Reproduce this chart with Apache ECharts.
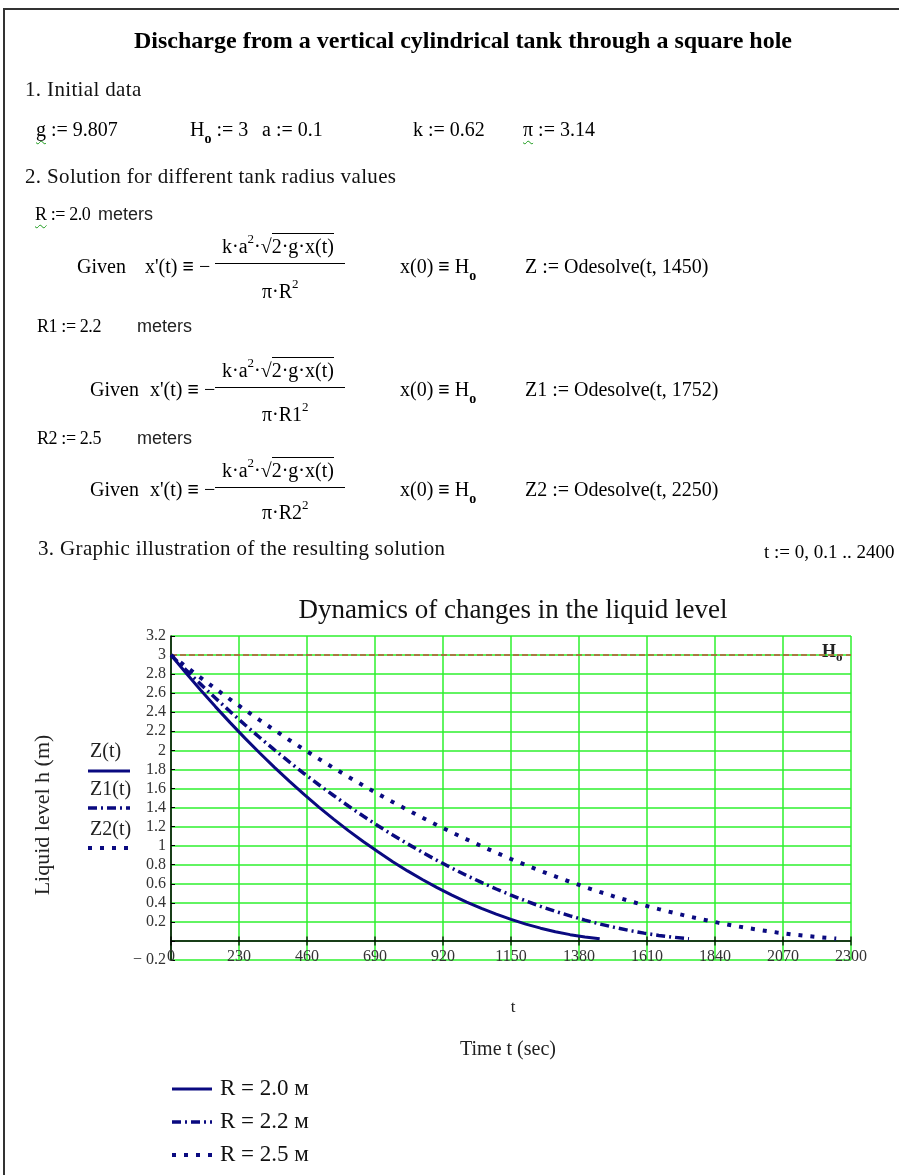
<!DOCTYPE html>
<html>
<head>
<meta charset="utf-8">
<script src="https://cdn.jsdelivr.net/npm/echarts@6/dist/echarts.min.js"></script>
<style>
html,body{margin:0;padding:0;background:#fff;}
body{width:899px;height:1175px;overflow:hidden;position:relative;}
#frame{position:absolute;left:3px;top:8px;width:2000px;height:2000px;border-left:2px solid #333;border-top:2px solid #333;}
#chart{position:absolute;left:0;top:0;width:899px;height:1175px;}
.m{position:absolute;font-family:'Liberation Serif',serif;font-size:20px;line-height:20px;white-space:nowrap;color:#000;z-index:2;}
.r{font-size:18px;line-height:20px;letter-spacing:-0.4px;}
.s{font-family:'Liberation Sans',sans-serif;font-size:18px;color:#222;letter-spacing:0;}
.h{font-size:21px;line-height:22px;letter-spacing:0.35px;color:#111;}
.w{text-decoration:underline wavy #1a9a1a;text-underline-offset:4px;text-decoration-thickness:1px;text-decoration-skip-ink:none;}
sup{font-size:13px;vertical-align:10px;line-height:0;}
sub{font-size:14px;vertical-align:-7px;line-height:0;font-weight:bold;}
.ov{border-top:1.3px solid #000;padding-top:1px;}
.bar{position:absolute;height:1.4px;background:#000;z-index:2;}
</style>
</head>
<body>
<div id="frame"></div>
<div id="chart"></div>

<div class="m" style="left:463px;top:26px;transform:translateX(-50%);font-size:24px;line-height:28px;font-weight:bold;">Discharge from a vertical cylindrical tank through a square hole</div>

<div class="m h" style="left:25px;top:78px;">1. Initial data</div>
<div class="m" style="left:36px;top:119px;"><span class="w">g</span> :=  9.807</div>
<div class="m" style="left:190px;top:119px;">H<sub>o</sub> := 3</div>
<div class="m" style="left:262px;top:119px;">a := 0.1</div>
<div class="m" style="left:413px;top:119px;">k := 0.62</div>
<div class="m" style="left:523px;top:119px;"><span class="w">π</span> := 3.14</div>

<div class="m h" style="left:25px;top:165px;">2. Solution for different tank radius values</div>

<div class="m r" style="left:35px;top:204px;"><span class="w">R</span> := 2.0</div>
<div class="m s" style="left:98px;top:204px;">meters</div>
<div class="m" style="left:77px;top:256px;">Given</div>
<div class="m" style="left:145px;top:256px;">x'(t) <b>≡</b> −</div>
<div class="m" style="left:222px;top:236px;">k·a<sup>2</sup>·√<span class="ov">2·g·x(t)</span></div>
<div class="bar" style="left:215px;top:263px;width:130px;"></div>
<div class="m" style="left:262px;top:281px;">π·R<sup>2</sup></div>
<div class="m" style="left:400px;top:256px;">x(0) <b>≡</b> H<sub>o</sub></div>
<div class="m" style="left:525px;top:256px;">Z := Odesolve(t, 1450)</div>

<div class="m r" style="left:37px;top:316px;">R1 := 2.2</div>
<div class="m s" style="left:137px;top:316px;">meters</div>
<div class="m" style="left:90px;top:379px;">Given</div>
<div class="m" style="left:150px;top:379px;">x'(t) <b>≡</b> −</div>
<div class="m" style="left:222px;top:360px;">k·a<sup>2</sup>·√<span class="ov">2·g·x(t)</span></div>
<div class="bar" style="left:215px;top:387px;width:130px;"></div>
<div class="m" style="left:262px;top:404px;">π·R1<sup>2</sup></div>
<div class="m" style="left:400px;top:379px;">x(0) <b>≡</b> H<sub>o</sub></div>
<div class="m" style="left:525px;top:379px;">Z1 := Odesolve(t, 1752)</div>

<div class="m r" style="left:37px;top:428px;">R2 := 2.5</div>
<div class="m s" style="left:137px;top:428px;">meters</div>
<div class="m" style="left:90px;top:479px;">Given</div>
<div class="m" style="left:150px;top:479px;">x'(t) <b>≡</b> −</div>
<div class="m" style="left:222px;top:460px;">k·a<sup>2</sup>·√<span class="ov">2·g·x(t)</span></div>
<div class="bar" style="left:215px;top:487px;width:130px;"></div>
<div class="m" style="left:262px;top:502px;">π·R2<sup>2</sup></div>
<div class="m" style="left:400px;top:479px;">x(0) <b>≡</b> H<sub>o</sub></div>
<div class="m" style="left:525px;top:479px;">Z2 := Odesolve(t, 2250)</div>

<div class="m h" style="left:38px;top:537px;">3. Graphic illustration of the resulting solution</div>
<div class="m" style="left:764px;top:542px;font-size:19px;">t := 0, 0.1 .. 2400</div>

<script>
// ---- data ----
const H0 = 3;
const seriesNames = ['R = 2.0 м', 'R = 2.2 м', 'R = 2.5 м'];
const curveLabels = ['Z(t)', 'Z1(t)', 'Z2(t)'];

const tZ  = [0,50,100,150,200,250,300,350,400,450,500,550,600,650,700,750,800,850,900,950,1000,1050,1100,1150,1200,1250,1300,1350,1400,1450];
const hZ  = [3.000,2.814,2.633,2.459,2.291,2.128,1.972,1.821,1.677,1.538,1.405,1.279,1.158,1.044,0.935,0.832,0.735,0.645,0.560,0.481,0.408,0.341,0.281,0.226,0.177,0.134,0.097,0.066,0.041,0.022];

const tZ1 = [0,50,100,150,200,250,300,350,400,450,500,550,600,650,700,750,800,850,900,950,1000,1050,1100,1150,1200,1250,1300,1350,1400,1450,1500,1550,1600,1650,1700,1752];
const hZ1 = [3.000,2.846,2.695,2.549,2.407,2.269,2.135,2.005,1.879,1.757,1.639,1.526,1.416,1.311,1.209,1.112,1.019,0.930,0.845,0.764,0.687,0.614,0.545,0.480,0.420,0.363,0.311,0.263,0.218,0.178,0.142,0.110,0.082,0.058,0.039,0.022];

const tZ2 = [0,50,100,150,200,250,300,350,400,450,500,550,600,650,700,750,800,850,900,950,1000,1050,1100,1150,1200,1250,1300,1350,1400,1450,1500,1550,1600,1650,1700,1750,1800,1850,1900,1950,2000,2050,2100,2150,2200,2250];
const hZ2 = [3.000,2.880,2.763,2.648,2.535,2.425,2.317,2.212,2.109,2.009,1.911,1.815,1.722,1.632,1.543,1.458,1.375,1.294,1.215,1.139,1.066,0.995,0.926,0.860,0.797,0.735,0.677,0.620,0.566,0.515,0.466,0.420,0.375,0.334,0.295,0.258,0.224,0.192,0.162,0.135,0.111,0.089,0.069,0.052,0.037,0.025];

const xTickValues = [0,230,460,690,920,1150,1380,1610,1840,2070,2300];
const xMin = 0, xMax = 2300, xStep = 230;
const yMin = -0.2, yMax = 3.2, yStep = 0.2;

const zip = (t, h) => t.map((v, i) => [v, h[i]]);

const NAVY = '#0a0a80';
const GREEN = '#2ef02e';
const SERIF = 'Liberation Serif';

const styles = [
  {type: 'solid', width: 3},
  {type: [9, 4, 2, 4], width: 3.5},
  {type: [4, 8], width: 4}
];

const chart = echarts.init(document.getElementById('chart'), null, {renderer: 'canvas'});

const lineSeries = [zip(tZ, hZ), zip(tZ1, hZ1), zip(tZ2, hZ2)].map((d, i) => ({
  name: seriesNames[i],
  type: 'line',
  data: d,
  showSymbol: false,
  symbol: 'none',
  smooth: false,
  z: 5,
  lineStyle: {color: NAVY, width: styles[i].width, type: styles[i].type, cap: 'butt'},
  itemStyle: {color: NAVY}
}));

const legendSampleY = [771, 808, 848];
const legendTextY = [752, 790, 830];
const bottomLegendY = [1089, 1122, 1155];

const graphics = [];
curveLabels.forEach((lab, i) => {
  graphics.push({type: 'text', x: 90, y: legendTextY[i],
    style: {text: lab, font: '20px ' + SERIF, fill: '#222', verticalAlign: 'middle'}});
  graphics.push({type: 'line', shape: {x1: 88, y1: legendSampleY[i], x2: 130, y2: legendSampleY[i]},
    style: {stroke: NAVY, lineWidth: styles[i].width, lineDash: styles[i].type === 'solid' ? null : styles[i].type}});
});
seriesNames.forEach((nm, i) => {
  graphics.push({type: 'line', shape: {x1: 172, y1: bottomLegendY[i], x2: 212, y2: bottomLegendY[i]},
    style: {stroke: NAVY, lineWidth: styles[i].width, lineDash: styles[i].type === 'solid' ? null : styles[i].type}});
  graphics.push({type: 'text', x: 220, y: bottomLegendY[i],
    style: {text: nm, font: '23px ' + SERIF, fill: '#111', verticalAlign: 'middle'}});
});
graphics.push({type: 'text', x: 43, y: 815, rotation: Math.PI / 2,
  style: {text: 'Liquid level h (m)', font: '22px ' + SERIF, fill: '#222', align: 'center', verticalAlign: 'middle'}});
graphics.push({type: 'text', x: 513, y: 1008,
  style: {text: 't', font: '17px ' + SERIF, fill: '#222', align: 'center', verticalAlign: 'middle'}});
graphics.push({type: 'text', x: 508, y: 1050,
  style: {text: 'Time t (sec)', font: '20px ' + SERIF, fill: '#222', align: 'center', verticalAlign: 'middle'}});
graphics.push({type: 'text', x: 822, y: 652,
  style: {text: '{a|H}{b|o}', fill: '#222', verticalAlign: 'middle',
    rich: {a: {font: 'bold 18px ' + SERIF, fill: '#222'}, b: {font: 'bold 13px ' + SERIF, fill: '#222', padding: [12, 0, 0, 0]}}}});

const option = {
  animation: false,
  backgroundColor: 'transparent',
  title: {
    text: 'Dynamics of changes in the liquid level',
    left: 508, top: 592, textAlign: 'center',
    textStyle: {fontFamily: SERIF, fontSize: 27, fontWeight: 'normal', color: '#111'}
  },
  grid: {left: 171, top: 636, width: 680, height: 324, containLabel: false},
  xAxis: {
    type: 'value', min: xMin, max: xMax, interval: xStep, position: 'bottom',
    axisLine: {show: false, onZero: false},
    axisTick: {show: false},
    axisLabel: {fontFamily: SERIF, fontSize: 16, color: '#333', margin: -11,
      formatter: v => String(v)},
    splitLine: {show: true, lineStyle: {color: GREEN, width: 1.5}}
  },
  yAxis: {
    type: 'value', min: yMin, max: yMax, interval: yStep,
    axisLine: {show: true, onZero: false, lineStyle: {color: '#000', width: 1.5}},
    axisTick: {show: true, inside: true, length: 4, lineStyle: {color: '#000'}},
    axisLabel: {
      fontFamily: SERIF, fontSize: 16, color: '#333', margin: 5,
      formatter: v => {
        const r = Math.round(v * 10) / 10;
        if (r === 0) return '';
        if (r < 0) return '− ' + Math.abs(r).toFixed(1);
        return String(r);
      }
    },
    splitLine: {show: true, lineStyle: {color: GREEN, width: 1.5}}
  },
  series: lineSeries.concat([
    {
      name: 'Ho', type: 'line', data: [[xMin, H0], [xMax, H0]], symbol: 'none', z: 4,
      lineStyle: {color: '#c0503a', width: 1.5, type: [6, 3]}
    },
    {
      name: 'zero axis', type: 'line', data: [[xMin, 0], [xMax, 0]], symbol: 'none', z: 3,
      lineStyle: {color: '#000', width: 1.5}
    },
    {
      name: 'zero ticks', type: 'scatter', data: xTickValues.map(v => [v, 0]),
      symbol: 'rect', symbolSize: [1.5, 9], z: 3, itemStyle: {color: '#000'}, silent: true
    }
  ]),
  graphic: graphics
};
chart.setOption(option);
</script>
</body>
</html>
